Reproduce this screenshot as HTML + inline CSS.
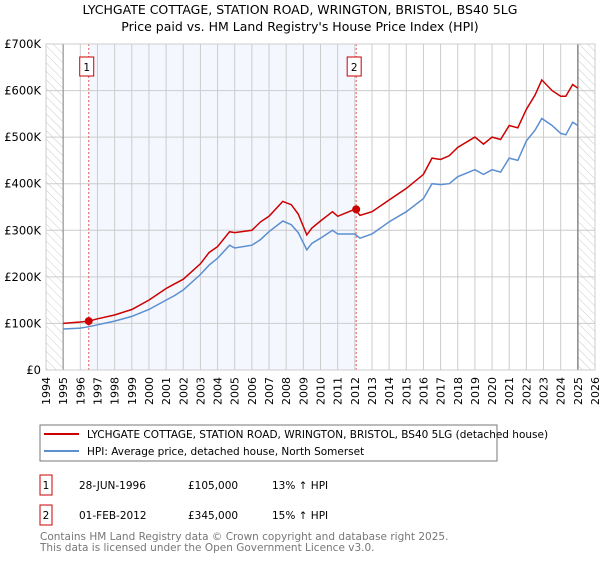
<!DOCTYPE html>
<html><head><meta charset="utf-8"><style>
body{margin:0;background:#fff;}
svg text{font-family:"DejaVu Sans","Liberation Sans",sans-serif;}
</style></head><body>
<svg id="c" width="600" height="560" xmlns="http://www.w3.org/2000/svg">
<defs><pattern id="hatch" width="6" height="6" patternUnits="userSpaceOnUse" patternTransform="rotate(-45)"><line x1="0" y1="0" x2="0" y2="6" stroke="#ccc" stroke-width="1"/></pattern></defs>
<text x="300" y="14" text-anchor="middle" font-size="12.5" fill="#000">LYCHGATE COTTAGE, STATION ROAD, WRINGTON, BRISTOL, BS40 5LG</text>
<text x="300" y="31" text-anchor="middle" font-size="12.5" fill="#000">Price paid vs. HM Land Registry's House Price Index (HPI)</text>
<g id="plot"></g>
<rect x="40" y="425" width="457" height="36" fill="#fff" stroke="#777"/>
<line x1="44" y1="434" x2="79" y2="434" stroke="#cc0000" stroke-width="2"/>
<text x="87" y="438" font-size="10.5">LYCHGATE COTTAGE, STATION ROAD, WRINGTON, BRISTOL, BS40 5LG (detached house)</text>
<line x1="44" y1="451" x2="79" y2="451" stroke="#5b8fd0" stroke-width="2"/>
<text x="87" y="455" font-size="10.5">HPI: Average price, detached house, North Somerset</text>
<rect x="40" y="475" width="12" height="20" fill="#fff" stroke="#cc0000"/>
<text x="46" y="489" font-size="10.5" text-anchor="middle">1</text>
<text x="79" y="489" font-size="10.5">28-JUN-1996</text>
<text x="188" y="489" font-size="10.5">£105,000</text>
<text x="272" y="489" font-size="10.5">13% ↑ HPI</text>
<rect x="40" y="505" width="12" height="20" fill="#fff" stroke="#cc0000"/>
<text x="46" y="519" font-size="10.5" text-anchor="middle">2</text>
<text x="79" y="519" font-size="10.5">01-FEB-2012</text>
<text x="188" y="519" font-size="10.5">£345,000</text>
<text x="272" y="519" font-size="10.5">15% ↑ HPI</text>
<text x="40" y="540" font-size="10.5" fill="#777">Contains HM Land Registry data © Crown copyright and database right 2025.</text>
<text x="40" y="551" font-size="10.5" fill="#777">This data is licensed under the Open Government Licence v3.0.</text>
</svg>
<script>
const yearTicks=[1994,1995,1996,1997,1998,1999,2000,2001,2002,2003,2004,2005,2006,2007,2008,2009,2010,2011,2012,2013,2014,2015,2016,2017,2018,2019,2020,2021,2022,2023,2024,2025,2026];
const valueTicks=[0,100000,200000,300000,400000,500000,600000,700000];
const valueLabels=["£0","£100K","£200K","£300K","£400K","£500K","£600K","£700K"];
const hpiDates=[1995,1996,1996.5,1997,1998,1999,2000,2001,2001.5,2002,2003,2003.5,2004,2004.7,2005,2006,2006.5,2007,2007.8,2008.3,2008.7,2009.2,2009.5,2010,2010.7,2011,2012,2012.3,2013,2014,2015,2016,2016.5,2017,2017.5,2018,2019,2019.5,2020,2020.5,2021,2021.5,2022,2022.5,2022.9,2023.5,2024,2024.3,2024.7,2025];
const hpiValues=[88000,90000,93000,97000,105000,115000,130000,150000,160000,172000,205000,225000,240000,268000,262000,268000,280000,297000,320000,312000,295000,258000,272000,283000,300000,292000,292000,283000,292000,318000,340000,368000,400000,398000,400000,415000,430000,420000,430000,425000,455000,450000,492000,515000,540000,525000,508000,505000,532000,525000];
const propValues=[100000,103000,105000,110000,118000,130000,150000,175000,185000,195000,228000,252000,265000,297000,295000,300000,318000,330000,362000,355000,335000,290000,305000,320000,340000,330000,345000,332000,340000,365000,390000,420000,455000,452000,460000,478000,500000,485000,500000,495000,525000,520000,560000,590000,623000,600000,588000,588000,613000,605000];
const saleDates=[1996.49,2012.08];
const saleValues=[105000,345000];
const saleLabels=["1","2"];

const X0=46,X1=595,Y0=370,Y1=44;
const xs=y=>X0+(y-1994)/(2026-1994)*(X1-X0);
const ys=v=>Y0-v/700000*(Y0-Y1);
const NS="http://www.w3.org/2000/svg";
const g=document.getElementById('plot');
function mk(t,a){const e=document.createElementNS(NS,t);for(const k in a)e.setAttribute(k,a[k]);g.appendChild(e);return e;}
let e;
e=mk('rect',{x:xs(1994),y:Y1,width:xs(1995)-xs(1994),height:Y0-Y1,fill:'url(#hatch)'});


e=mk('rect',{x:xs(2025),y:Y1,width:xs(2026)-xs(2025),height:Y0-Y1,fill:'url(#hatch)'});


e=mk('rect',{x:xs(saleDates[0]),y:Y1,width:xs(saleDates[1])-xs(saleDates[0]),height:Y0-Y1,fill:'#f4f7fe'});


yearTicks.forEach(yr=>{
  e=mk('line',{x1:xs(yr),x2:xs(yr),y1:Y1,y2:Y0,stroke:'#ccc','stroke-width':1});
  
  
  const t=mk('text',{transform:`translate(${xs(yr)+4},377) rotate(-90)`,'font-size':11,'text-anchor':'end',fill:'#000'});
  t.textContent=yr;
  
  
});
valueTicks.forEach((v,i)=>{
  e=mk('line',{x1:X0,x2:X1,y1:ys(v),y2:ys(v),stroke:'#ccc','stroke-width':1});
  
  
  const t=mk('text',{x:41,y:ys(v)+4,'font-size':11.5,'text-anchor':'end',fill:'#000'});
  t.textContent=valueLabels[i];
  
  
});
e=mk('line',{x1:xs(1995),x2:xs(1995),y1:Y1,y2:Y0,stroke:'#888','stroke-width':1});


e=mk('line',{x1:xs(2025),x2:xs(2025),y1:Y1,y2:Y0,stroke:'#888','stroke-width':1.5});


saleDates.forEach((d,i)=>{
  e=mk('line',{x1:xs(d),x2:xs(d),y1:Y1,y2:Y0,stroke:'#e06060','stroke-width':1,'stroke-dasharray':'2,2'});
  
  
  e=mk('rect',{x:xs(d)-9,y:57,width:14,height:19,fill:'#fff',stroke:'#cc0000'});
  
  
  const t=mk('text',{x:xs(d)-2,y:71,'font-size':10.5,'text-anchor':'middle'});
  t.textContent=saleLabels[i];
  
  
});
function path(vals){return hpiDates.map((d,i)=>(i?'L':'M')+xs(d).toFixed(1)+','+ys(vals[i]).toFixed(1)).join('');}
e=mk('path',{d:path(hpiValues),fill:'none',stroke:'#5b8fd0','stroke-width':1.5});


e=mk('path',{d:path(propValues),fill:'none',stroke:'#cc0000','stroke-width':1.5});


saleDates.forEach((d,i)=>{
  e=mk('circle',{cx:xs(d),cy:ys(saleValues[i]),r:4,fill:'#cc0000'});
  
  
});
e=mk('rect',{x:X0,y:Y1,width:X1-X0,height:Y0-Y1,fill:'none',stroke:'#ccc'});


</script>
</body></html>
